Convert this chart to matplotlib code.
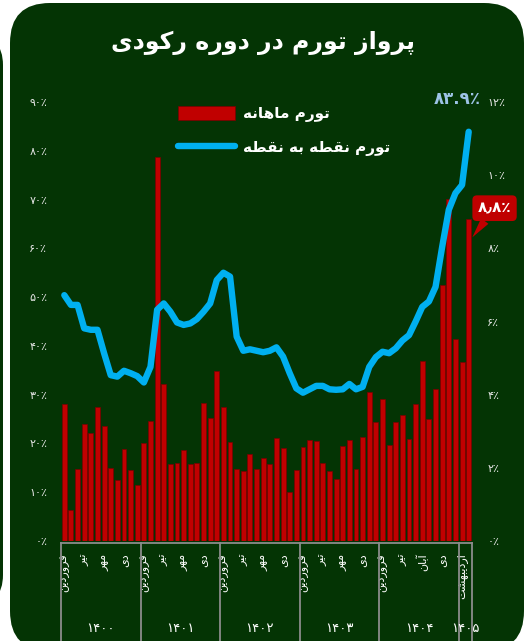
import matplotlib
matplotlib.use("Agg")

import matplotlib.pyplot as plt
import matplotlib.transforms as mtransforms
from matplotlib.patches import FancyBboxPatch
from matplotlib.lines import Line2D


# -----------------------------
# DATA
# -----------------------------
# monthly inflation, percent (right axis), Farvardin 1400 .. Ordibehesht 1405
monthly = [
    3.75, 0.85, 1.97, 3.19, 2.96, 3.66, 3.14, 2.00, 1.67, 2.51, 1.94, 1.53,
    2.67, 3.28, 10.5, 4.29, 2.10, 2.14, 2.49, 2.10, 2.14, 3.76, 3.35, 4.66,
    3.65, 2.71, 1.96, 1.91, 2.39, 1.97, 2.28, 2.10, 2.82, 2.54, 1.34, 1.94,
    2.57, 2.76, 2.72, 2.13, 1.91, 1.69, 2.61, 2.76, 1.97, 2.83, 4.07, 3.26,
    3.88, 2.62, 3.25, 3.44, 2.80, 3.74, 4.92, 3.33, 4.15, 7.00, 9.35, 5.52,
    4.90, 8.80,
]

# point-to-point inflation, percent (left axis)
point_to_point = [
    50.4, 48.4, 48.4, 43.6, 43.3, 43.3, 38.5, 34.0, 33.7, 34.9, 34.4, 33.8,
    32.5, 35.7, 47.4, 48.7, 47.0, 44.8, 44.3, 44.6, 45.5, 47.0, 48.7, 53.5,
    55.0, 54.2, 41.9, 39.0, 39.3, 39.0, 38.7, 39.0, 39.7, 37.8, 34.4, 31.3,
    30.4, 31.1, 31.8, 31.8, 31.1, 31.0, 31.1, 32.2, 31.1, 31.6, 35.7, 37.7,
    38.8, 38.5, 39.5, 41.1, 42.2, 45.0, 48.0, 49.1, 52.1, 60.3, 67.9, 71.3,
    73.0, 83.9,
]

years = ["1400", "1401", "1402", "1403", "1404", "1405"]
months_per_year = [12, 12, 12, 12, 12, 2]

month_tick_idx = [0, 3, 6, 9, 12, 15, 18, 21, 24, 27, 30, 33,
                  36, 39, 42, 45, 48, 51, 54, 57, 60]
month_tick_names = ["فروردین", "تیر", "مهر", "دی"] * 4 + \
                   ["فروردین", "تیر", "آبان", "دی", "اردیبهشت"]

left_ticks = list(range(0, 91, 10))
right_ticks = list(range(0, 13, 2))

TITLE = "پرواز تورم در دوره رکودی"
LABEL_BARS = "تورم ماهانه"
LABEL_LINE = "تورم نقطه به نقطه"


# -----------------------------
# THEME
# -----------------------------
PANEL_BG = "#043404"
BAR_COLOR = "#c00000"
BAR_EDGE = "#7a0000"
LINE_COLOR = "#00b0f0"
TEXT = "#ffffff"
TICK_TEXT = "#e6e6e6"
FRAME = "#8c8c8c"
END_LABEL = "#9dc3e6"


# -----------------------------
# minimal Persian shaping (matplotlib has no bidi / joining)
# -----------------------------
FORMS = {
    "ا": ("\uFE8D", "\uFE8E", None, None),
    "آ": ("\uFE81", "\uFE82", None, None),
    "ب": ("\uFE8F", "\uFE90", "\uFE91", "\uFE92"),
    "پ": ("\uFB56", "\uFB57", "\uFB58", "\uFB59"),
    "ت": ("\uFE95", "\uFE96", "\uFE97", "\uFE98"),
    "د": ("\uFEA9", "\uFEAA", None, None),
    "ر": ("\uFEAD", "\uFEAE", None, None),
    "ز": ("\uFEAF", "\uFEB0", None, None),
    "ش": ("\uFEB5", "\uFEB6", "\uFEB7", "\uFEB8"),
    "ط": ("\uFEC1", "\uFEC2", "\uFEC3", "\uFEC4"),
    "ف": ("\uFED1", "\uFED2", "\uFED3", "\uFED4"),
    "ق": ("\uFED5", "\uFED6", "\uFED7", "\uFED8"),
    "ک": ("\uFB8E", "\uFB8F", "\uFB90", "\uFB91"),
    "م": ("\uFEE1", "\uFEE2", "\uFEE3", "\uFEE4"),
    "ن": ("\uFEE5", "\uFEE6", "\uFEE7", "\uFEE8"),
    "ه": ("\uFEE9", "\uFEEA", "\uFEEB", "\uFEEC"),
    "و": ("\uFEED", "\uFEEE", None, None),
    "ی": ("\uFBFC", "\uFBFD", "\uFBFE", "\uFBFF"),
}


def shape(text: str) -> str:
    chars = list(text)
    out = []
    for i, c in enumerate(chars):
        if c not in FORMS:
            out.append(c)
            continue
        prev = chars[i - 1] if i > 0 else None
        nxt = chars[i + 1] if i + 1 < len(chars) else None
        iso, fin, ini, med = FORMS[c]
        joins_prev = prev in FORMS and FORMS[prev][2] is not None
        joins_next = ini is not None and nxt in FORMS
        if joins_prev and joins_next:
            out.append(med)
        elif joins_prev:
            out.append(fin)
        elif joins_next:
            out.append(ini)
        else:
            out.append(iso)
    return "".join(reversed(out))


FA_DIGITS = str.maketrans("0123456789", "۰۱۲۳۴۵۶۷۸۹")


def fa(s) -> str:
    return str(s).translate(FA_DIGITS)


plt.rcParams["font.family"] = ["DejaVu Sans"]

fig = plt.figure(figsize=(5.29, 6.41), dpi=100, facecolor="white")

# rounded dark-green panel (in inches so corners stay round)
fig.patches.append(FancyBboxPatch(
    (0.10, -0.10), 5.14, 6.48,
    boxstyle="round,pad=0,rounding_size=0.40",
    transform=fig.dpi_scale_trans, facecolor=PANEL_BG, edgecolor="none",
    zorder=-5,
))
# sliver of the neighbouring panel on the left edge
fig.patches.append(FancyBboxPatch(
    (-0.40, 0.36), 0.43, 5.70,
    boxstyle="round,pad=0,rounding_size=0.30",
    transform=fig.dpi_scale_trans, facecolor=PANEL_BG, edgecolor="none",
    zorder=-5,
))

ax = fig.add_axes([61 / 529, 100 / 641, 411 / 529, 439 / 641])
ax2 = ax.twinx()

n = len(monthly)
x = list(range(n))

bars = ax2.bar(x, monthly, width=0.74, color=BAR_COLOR, edgecolor=BAR_EDGE,
               linewidth=0.5, label=shape(LABEL_BARS))
line, = ax.plot(x, point_to_point, color=LINE_COLOR, linewidth=4.6,
                solid_capstyle="round", solid_joinstyle="round",
                label=shape(LABEL_LINE))

# line above bars
ax.set_zorder(ax2.get_zorder() + 1)
ax.patch.set_visible(False)
ax2.patch.set_visible(False)

ax.set_xlim(-0.5, n - 0.5)
ax.set_ylim(0, 90)
ax2.set_ylim(0, 12)

for a in (ax, ax2):
    for spine in a.spines.values():
        spine.set_visible(False)

ax.set_yticks(left_ticks)
ax.set_yticklabels([fa(v) + "٪" for v in left_ticks])
ax.tick_params(axis="y", length=0, pad=10, labelsize=8, colors=TICK_TEXT)

ax2.set_yticks(right_ticks)
ax2.set_yticklabels([fa(v) + "٪" for v in right_ticks])
ax2.tick_params(axis="y", length=0, pad=11, labelsize=8, colors=TICK_TEXT)

ax.set_xticks(month_tick_idx)
ax.set_xticklabels([shape(m) for m in month_tick_names], rotation=90,
                   va="top", ha="center")
ax.tick_params(axis="x", length=0, pad=9, labelsize=8, colors=TEXT)

# category frame: base line + year separators down to the bottom edge
trans = mtransforms.blended_transform_factory(ax.transData, fig.transFigure)
y_base = (641 - 543) / 641
bounds = [-0.5]
for m in months_per_year:
    bounds.append(bounds[-1] + m)
ax.add_line(Line2D([bounds[0], bounds[-1]], [y_base, y_base], transform=trans,
                   color=FRAME, linewidth=1.3, clip_on=False))
for b in bounds:
    ax.add_line(Line2D([b, b], [y_base, -0.02], transform=trans,
                       color=FRAME, linewidth=1.3, clip_on=False))
for yr, lo, hi in zip(years, bounds[:-1], bounds[1:]):
    ax.text((lo + hi) / 2, (641 - 628) / 641, fa(yr), transform=trans,
            ha="center", va="center", fontsize=9.5, color=TEXT)

# title
fig.text(0.497, 1 - 43 / 641, shape(TITLE), ha="center", va="center",
         fontsize=17, fontweight="bold", color=TEXT)

# legend
fig.legend(handles=[bars, line], loc="upper left",
           bbox_to_anchor=(178 / 529, 1 - 106 / 641), frameon=False,
           prop={"weight": "bold", "size": 11},
           labelcolor=TEXT, handlelength=3.7, handleheight=1.0,
           handletextpad=0.55, labelspacing=1.15, borderpad=0,
           borderaxespad=0)

# end-of-line value
ax.annotate(fa("83") + "." + fa("9") + "٪", xy=(n - 1, point_to_point[-1]),
            xytext=(-8, 17), textcoords="offset points", ha="center",
            va="bottom", fontsize=12, fontweight="bold", color=END_LABEL,
            annotation_clip=False)

# callout for the last monthly bar
ax2.annotate(fa("8") + "٫" + fa("8") + "٪", xy=(n - 1 + 0.55, monthly[-1] - 0.5),
             xytext=(16, 21), textcoords="offset points", ha="center",
             va="center", fontsize=11, fontweight="bold", color=TEXT,
             bbox=dict(boxstyle="round,pad=0.35,rounding_size=0.3",
                       fc=BAR_COLOR, ec="none"),
             arrowprops=dict(arrowstyle="wedge,tail_width=0.6", fc=BAR_COLOR,
                             ec="none", shrinkA=0, shrinkB=0),
             annotation_clip=False, zorder=10)

fig.savefig("out.png", dpi=100, facecolor="white")
plt.close(fig)
